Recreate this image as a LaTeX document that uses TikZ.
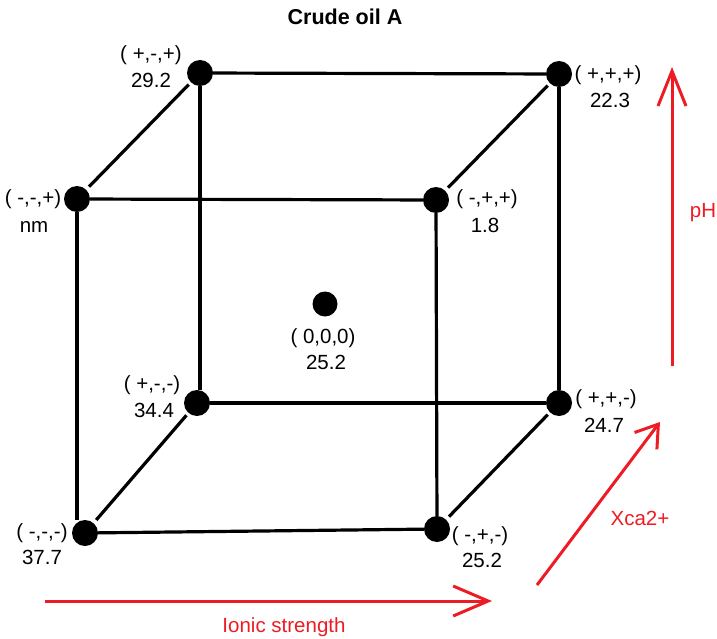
\documentclass[tikz,border=0pt]{standalone}
\usepackage{fontspec}
\setmainfont{Liberation Sans}
\usetikzlibrary{arrows.meta}
\definecolor{axred}{RGB}{237,28,36}
\tikzset{
  dot/.style={circle,fill=black,inner sep=0pt,minimum size=26pt},
  cdot/.style={circle,fill=black,inner sep=0pt,minimum size=25pt},
  edge/.style={line width=3.2pt},
  lbl/.style={inner sep=0pt,font=\fontsize{20.5}{23}\selectfont},
  axis/.style={line width=3pt,draw=axred},
  axlbl/.style={inner sep=0pt,text=axred,font=\fontsize{20.5}{23}\selectfont},
}
\begin{document}
\begin{tikzpicture}[x=1pt,y=-1pt]
\useasboundingbox (0,0) rectangle (717,639);
% title
\node[inner sep=0pt,font=\fontsize{21.5}{24}\selectfont\bfseries] (title) at (345,17) {Crude oil A};
% vertices
\node[dot] (ppp) at (559,74) {};
\node[dot] (pmp) at (200,73) {};
\node[dot] (mmp) at (77,199) {};
\node[dot] (mpp) at (436,200) {};
\node[dot] (pmm) at (197,403) {};
\node[dot] (ppm) at (559,403) {};
\node[dot] (mmm) at (85,533) {};
\node[dot] (mpm) at (437,529) {};
\node[cdot] (ctr) at (325,304) {};
% edges
\draw[edge] (pmp) -- (ppp);
\draw[edge] (mmp) -- (mpp);
\draw[edge] (pmm) -- (ppm);
\draw[edge] (mmm) -- (mpm);
\draw[edge] (mmp.south) -- (mmp.south |- mmm.north);
\draw[edge] (pmp.south) -- (pmp.south |- pmm.north);
\draw[edge] (mpp) -- (mpm);
\draw[edge] (ppp) -- (ppm);
\draw[edge,shorten <=3pt,shorten >=4pt] (pmp) -- (mmp);
\draw[edge,shorten <=3pt,shorten >=4pt] (ppp) -- (mpp);
\draw[edge,shorten <=3pt,shorten >=4pt] (pmm) -- (mmm);
\draw[edge,shorten <=3pt,shorten >=4pt] (ppm) -- (mpm);
% labels
\node[lbl] (l1) at (151,55) {( +,-,+)};
\node[lbl] (v1) at (151,80) {29.2};
\node[lbl] (l2) at (608,75) {( +,+,+)};
\node[lbl] (v2) at (610,100) {22.3};
\node[lbl] (l3) at (33,199) {( -,-,+)};
\node[lbl] (v3) at (34,227) {nm};
\node[lbl] (l4) at (487,199) {( -,+,+)};
\node[lbl] (v4) at (485,225) {1.8};
\node[lbl] (l5) at (323,338) {( 0,0,0)};
\node[lbl] (v5) at (326,362) {25.2};
\node[lbl] (l6) at (152,385) {( +,-,-)};
\node[lbl] (v6) at (154,410) {34.4};
\node[lbl] (l7) at (606,399) {( +,+,-)};
\node[lbl] (v7) at (604,425) {24.7};
\node[lbl] (l8) at (42,533) {( -,-,-)};
\node[lbl] (v8) at (42,557) {37.7};
\node[lbl] (l9) at (480,536) {( -,+,-)};
\node[lbl] (v9) at (482,560) {25.2};
% axes
\coordinate (phs) at (672,366);
\coordinate (phe) at (672,67);
\draw[axis,-{Straight Barb[length=35pt,width=28pt]}] (phs) -- (phe);
\coordinate (xcs) at (537,585);
\coordinate (xce) at (660,422);
\draw[axis,-{Straight Barb[length=21pt,width=28pt]}] (xcs) -- (xce);
\coordinate (iss) at (45,601);
\coordinate (ise) at (492,601);
\draw[axis,-{Straight Barb[length=35pt,width=30pt]}] (iss) -- (ise);
\node[axlbl] (ph) at (703,213) {pH};
\node[axlbl] (xca) at (640,518) {Xca2+};
\node[axlbl] (ion) at (284,627) {Ionic strength};
\end{tikzpicture}
\end{document}
